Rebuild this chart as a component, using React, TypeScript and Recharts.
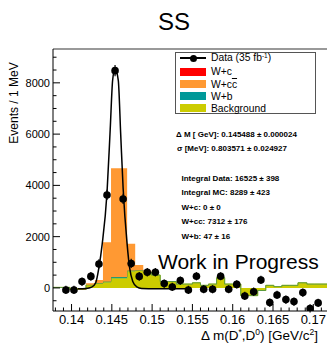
import React from "react";
import {
  ComposedChart,
  Area,
  Line,
  Scatter,
  ErrorBar,
  XAxis,
  YAxis,
  ReferenceLine,
} from "recharts";

const FONT = "'Liberation Sans', Arial, Helvetica, sans-serif";

// histogram bin edges (GeV) and stacked MC contributions per bin
const binEdges = [
  0.1377, 0.1398, 0.1408, 0.1418, 0.1429, 0.1439, 0.1449, 0.1459, 0.1469, 0.1479, 0.1489,
  0.1499, 0.151, 0.152, 0.153, 0.154, 0.155, 0.156, 0.157, 0.158, 0.159, 0.16, 0.161,
  0.1621, 0.1631, 0.1641, 0.1651, 0.1661, 0.1671, 0.1681, 0.1692, 0.1701, 0.1717,
];
const bgValues = [
  20, -60, -60, 120, 180, 220, 380, 380, 650, 680, 620, 500, 250, 250, 150, 150, 200, 100,
  150, 400, 150, 150, -300, -300, -100, 100, 50, 100, 100, 200, 150, 150,
];
const wbValues = [
  0, 0, 0, 0, 10, 30, 50, 50, 30, 10, 0, 0, 0, 0, 0, 0, 0, 0, 0, 0, 0, 0, 0, 0, 0, 0, 0, 0,
  0, 0, 0, 0,
];
const wccValues = [
  0, 0, 30, 60, 120, 1530, 4240, 4240, 1040, 200, 60, 0, 0, 0, 0, 0, 0, 0, 0, 0, 0, 0, 0, 0,
  0, 0, 0, 0, 0, 0, 0, 0,
];
const wcValues = [
  0, 0, 0, 0, 0, 0, 0, 0, 0, 0, 0, 0, 0, 0, 0, 0, 0, 0, 0, 0, 0, 0, 0, 0, 0, 0, 0, 0, 0, 0,
  0, 0,
];

// data points
const dataX = [
  0.1393, 0.1403, 0.1413, 0.1424, 0.1434, 0.1444, 0.1454, 0.1464, 0.1474, 0.1484, 0.1494,
  0.1504, 0.1515, 0.1525, 0.1535, 0.1545, 0.1555, 0.1564, 0.1575, 0.1585, 0.1595, 0.1605,
  0.1615, 0.1626, 0.1635, 0.1646, 0.1655, 0.1666, 0.1676, 0.1687, 0.1696, 0.1706,
];
const dataY = [
  -78, -78, 246, 450, 936, 3627, 8475, 3471, 955, 450, 612, 612, 168, 39, 285, -78, 456, -51,
  -51, 456, -51, 137, -312, -148, 312, -573, -273, -456, -534, -183, -800, -585,
];
const dataErr = [
  160, 160, 160, 170, 180, 200, 220, 200, 180, 170, 170, 170, 160, 160, 160, 160, 160, 160,
  160, 160, 160, 160, 160, 160, 160, 160, 160, 160, 160, 160, 160, 160,
];

// fit curve
const fitX = [
  0.1408, 0.1418, 0.1425, 0.143, 0.1434, 0.1438, 0.1444, 0.1448, 0.1451, 0.1454, 0.1458,
  0.1461, 0.1464, 0.1469, 0.1472, 0.1476, 0.1481, 0.1487, 0.1504, 0.1545,
];
const fitY = [
  -30, -20, 30, 200, 800, 1700, 3700, 6200, 8100, 8550, 8100, 6000, 3900, 1700, 800, 250, 40,
  -20, -30, -30,
];

const xTicks = [
  0.138, 0.139, 0.14, 0.141, 0.142, 0.143, 0.144, 0.145, 0.146, 0.147, 0.148, 0.149, 0.15,
  0.151, 0.152, 0.153, 0.154, 0.155, 0.156, 0.157, 0.158, 0.159, 0.16, 0.161, 0.162, 0.163,
  0.164, 0.165, 0.166, 0.167, 0.168, 0.169, 0.17, 0.171,
];
const yTicks = [
  -500, 0, 500, 1000, 1500, 2000, 2500, 3000, 3500, 4000, 4500, 5000, 5500, 6000, 6500, 7000,
  7500, 8000, 8500, 9000,
];

const statLines = [
  "Integral Data: 16525 ± 398",
  "Integral MC: 8289 ± 423",
  "W+c: 0 ± 0",
  "W+cc: 7312 ± 176",
  "W+b: 47 ± 16",
];

const histRows = binEdges.map((x, i) => {
  const k = Math.min(i, bgValues.length - 1);
  return { x, bg: bgValues[k], wb: wbValues[k], wcc: wccValues[k], wc: wcValues[k] };
});
const points = dataX.map((x, i) => ({ x, y: dataY[i], err: dataErr[i] }));
const fitRows = fitX.map((x, i) => ({ x, y: fitY[i] }));

const YTick = (props: any) => {
  const { x, y, payload } = props;
  const v = payload.value;
  const major = v % 2000 === 0;
  return (
    <g>
      <line x1={x} x2={x + (major ? 7 : 3.5)} y1={y} y2={y} stroke="#000" />
      {major && (
        <text x={x - 3} y={y} dy={4} textAnchor="end" fontSize={11} fontFamily={FONT} fill="#000">
          {v}
        </text>
      )}
    </g>
  );
};

const XTick = (props: any) => {
  const { x, y, payload } = props;
  const v = payload.value;
  const major = Math.round(v * 1000) % 5 === 0;
  return (
    <g>
      <line x1={x} x2={x} y1={y} y2={y - (major ? 7 : 3.5)} stroke="#000" />
      {major && (
        <text x={x} y={y + 13} textAnchor="middle" fontSize={13} fontFamily={FONT} fill="#000">
          {String(Number(v.toFixed(3)))}
        </text>
      )}
    </g>
  );
};

const Dot = (props: any) => {
  const { cx, cy } = props;
  return <circle cx={cx} cy={cy} r={3.8} fill="#000" />;
};

const swatches = [
  { label: "W+c", color: "#ff0000" },
  { label: "W+cc", color: "#ff9933" },
  { label: "W+b", color: "#009999" },
  { label: "Background", color: "#cccc00" },
];

const supStyle: React.CSSProperties = {
  fontSize: 8.5,
  lineHeight: "8px",
  position: "relative",
  top: -4.5,
};

export default function App() {
  return (
    <div
      style={{
        position: "absolute",
        left: 0,
        top: 0,
        width: 328,
        height: 345,
        background: "#fff",
        fontFamily: FONT,
        overflow: "hidden",
      }}
    >
      <ComposedChart
        width={328}
        height={345}
        data={histRows}
        margin={{ top: 49, right: 1, bottom: 0, left: 0 }}
      >
        <XAxis
          dataKey="x"
          type="number"
          domain={[0.1377, 0.1717]}
          ticks={xTicks}
          interval={0}
          allowDataOverflow
          height={34}
          tickSize={0}
          tickMargin={0}
          tickLine={false}
          axisLine={{ stroke: "#000" }}
          tick={<XTick />}
        />
        <YAxis
          type="number"
          domain={[-900, 9320]}
          ticks={yTicks}
          interval={0}
          allowDataOverflow
          width={53}
          tickSize={0}
          tickMargin={0}
          tickLine={false}
          axisLine={{ stroke: "#000" }}
          tick={<YTick />}
        />
        <ReferenceLine y={9320} stroke="#999" strokeWidth={2} />
        <Area
          dataKey="bg"
          stackId="mc"
          type="stepAfter"
          fill="#cccc00"
          fillOpacity={1}
          stroke="#cccc00"
          strokeWidth={1}
          dot={false}
          activeDot={false}
          isAnimationActive={false}
        />
        <Area
          dataKey="wb"
          stackId="mc"
          type="stepAfter"
          fill="#009999"
          fillOpacity={1}
          stroke="#5a9a40"
          strokeWidth={1}
          dot={false}
          activeDot={false}
          isAnimationActive={false}
        />
        <Area
          dataKey="wcc"
          stackId="mc"
          type="stepAfter"
          fill="#ff9933"
          fillOpacity={1}
          stroke="none"
          dot={false}
          activeDot={false}
          isAnimationActive={false}
        />
        <Area
          dataKey="wc"
          stackId="mc"
          type="stepAfter"
          fill="#ff0000"
          fillOpacity={1}
          stroke="none"
          dot={false}
          activeDot={false}
          isAnimationActive={false}
        />
        <Line
          data={fitRows}
          dataKey="y"
          type="monotone"
          stroke="#000"
          strokeWidth={1.5}
          dot={false}
          activeDot={false}
          isAnimationActive={false}
        />
        <Scatter data={points} dataKey="y" shape={<Dot />} isAnimationActive={false}>
          <ErrorBar dataKey="err" direction="y" width={0} stroke="#000" strokeWidth={1.2} />
        </Scatter>
      </ComposedChart>

      {/* title */}
      <div
        style={{
          position: "absolute",
          left: 124,
          width: 100,
          top: 9.7,
          textAlign: "center",
          fontSize: 24,
          lineHeight: "24px",
        }}
      >
        SS
      </div>

      {/* y axis title */}
      <div
        style={{
          position: "absolute",
          left: 14 - 60,
          top: 103 - 7,
          width: 120,
          textAlign: "center",
          fontSize: 12,
          lineHeight: "14px",
          transform: "rotate(-90deg)",
        }}
      >
        Events / 1 MeV
      </div>

      {/* x axis title */}
      <div
        style={{
          position: "absolute",
          right: 10,
          top: 328.5,
          fontSize: 13.5,
          lineHeight: "13px",
          whiteSpace: "nowrap",
        }}
      >
        Δ m(D<span style={supStyle}>*</span>,D<span style={supStyle}>0</span>) [GeV/c
        <span style={supStyle}>2</span>]
      </div>

      {/* legend */}
      <div
        style={{
          position: "absolute",
          left: 175,
          top: 52,
          width: 141,
          height: 62,
          border: "1px solid #555",
          background: "#fff",
          boxSizing: "border-box",
        }}
      >
        <div style={{ position: "absolute", left: 4, top: 4, width: 26, height: 1.5, background: "#000" }} />
        <div
          style={{
            position: "absolute",
            left: 14,
            top: 1.5,
            width: 7,
            height: 7,
            borderRadius: 4,
            background: "#000",
          }}
        />
        <div style={{ position: "absolute", left: 35, top: -1, fontSize: 10.3, lineHeight: "11px", whiteSpace: "nowrap" }}>
          Data (35 fb<span style={{ fontSize: 6.5, position: "relative", top: -3 }}>-1</span>)
        </div>
        {swatches.map((s, i) => (
          <React.Fragment key={s.label}>
            <div
              style={{
                position: "absolute",
                left: 4,
                top: 14.5 + i * 12.2,
                width: 26,
                height: 8,
                background: s.color,
              }}
            />
            <div
              style={{
                position: "absolute",
                left: 35,
                top: 13.3 + i * 12.2,
                fontSize: 10.3,
                lineHeight: "11px",
                whiteSpace: "nowrap",
              }}
            >
              {s.label === "W+cc" ? (
                <>
                  W+c<span style={{ textDecoration: "overline" }}>c</span>
                </>
              ) : (
                s.label
              )}
            </div>
          </React.Fragment>
        ))}
      </div>

      {/* fit results */}
      <div style={{ position: "absolute", left: 176, top: 131, fontSize: 8, lineHeight: "8px", fontWeight: "bold", whiteSpace: "nowrap" }}>
        Δ M [ GeV]: 0.145488 ± 0.000024
      </div>
      <div style={{ position: "absolute", left: 177, top: 145.3, fontSize: 8, lineHeight: "8px", fontWeight: "bold", whiteSpace: "nowrap" }}>
        σ [MeV]: 0.803571 ± 0.024927
      </div>
      {statLines.map((t, i) => (
        <div
          key={t}
          style={{
            position: "absolute",
            left: 181.5,
            top: 175 + i * 14.4,
            fontSize: 8,
            lineHeight: "8px",
            fontWeight: "bold",
            whiteSpace: "nowrap",
          }}
        >
          {t}
        </div>
      ))}

      <div
        style={{
          position: "absolute",
          left: 158,
          top: 250.5,
          fontSize: 21,
          lineHeight: "21px",
          whiteSpace: "nowrap",
        }}
      >
        Work in Progress
      </div>
    </div>
  );
}
